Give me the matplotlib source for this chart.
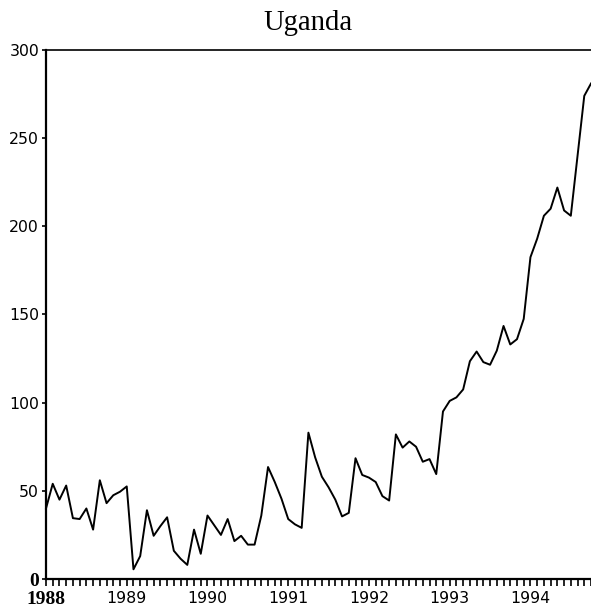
import numpy as np
import matplotlib
matplotlib.use("Agg")
import matplotlib.pyplot as plt
from matplotlib.ticker import MultipleLocator, FixedLocator

title = "Uganda"
start_year = 1988
year_ticks = [1988, 1989, 1990, 1991, 1992, 1993, 1994]
y_ticks = [0, 50, 100, 150, 200, 250, 300]

# monthly values, Jan 1988 .. Oct 1994
values = [
    40, 54, 45, 53, 34.5, 34, 40, 28, 56, 43, 47.5, 49.5,          # 1988
    52.5, 5.5, 13, 39, 24.5, 30, 35, 16, 11.5, 8, 28, 14.3,         # 1989
    36, 30.5, 25, 34, 21.5, 24.5, 19.5, 19.5, 36, 63.5, 55, 45.5,   # 1990
    34, 31, 29, 83, 69, 58, 52, 45, 35.5, 37.5, 68.5, 59,           # 1991
    57.5, 55, 47, 44.5, 82, 74.5, 78, 75, 66.5, 68, 59.5, 95,       # 1992
    101, 103, 107.5, 123.5, 129, 123, 121.5, 129.5, 143.5, 133, 136, 147.5,  # 1993
    182.5, 193, 206, 210, 222, 209, 206, 240, 274, 281,             # 1994
]

t = start_year + np.arange(len(values)) / 12.0

fig = plt.figure(figsize=(5.91, 6.09), dpi=100)
ax = fig.add_axes([46 / 591, 30 / 609, 545 / 591, 529 / 609])
ax.plot(t, values, color="black", linewidth=1.4, clip_on=False)

ax.set_xlim(t[0], t[-1])
ax.set_ylim(0, 300)

ax.xaxis.set_major_locator(FixedLocator(year_ticks))
ax.xaxis.set_minor_locator(MultipleLocator(1 / 12))
ax.set_xticks(year_ticks)
ax.set_xticklabels([str(y) for y in year_ticks])
ax.set_yticks(y_ticks)
ax.set_yticklabels([str(v) for v in y_ticks])

ax.tick_params(axis="x", which="both", direction="out", length=5, width=1.2,
               pad=3.5, labelsize=11.3, color="black")
ax.tick_params(axis="y", which="major", direction="out", length=3, width=1.2,
               pad=2, labelsize=11.3)

# first labels look like bold serif in the reference
xl = ax.get_xticklabels()
xl[0].set_fontfamily("Liberation Serif")
xl[0].set_fontweight("bold")
xl[0].set_fontsize(14)
yl = ax.get_yticklabels()
yl[0].set_fontfamily("Liberation Serif")
yl[0].set_fontweight("bold")
yl[0].set_fontsize(14)

for s in ["left", "bottom"]:
    ax.spines[s].set_linewidth(1.6)
ax.spines["top"].set_linewidth(1.2)
ax.spines["right"].set_visible(False)

fig.text(307.5 / 591, 1 - 30 / 609, title, ha="center", va="baseline",
         fontfamily="Liberation Serif", fontsize=20.6)

fig.savefig("out.png", dpi=100)
